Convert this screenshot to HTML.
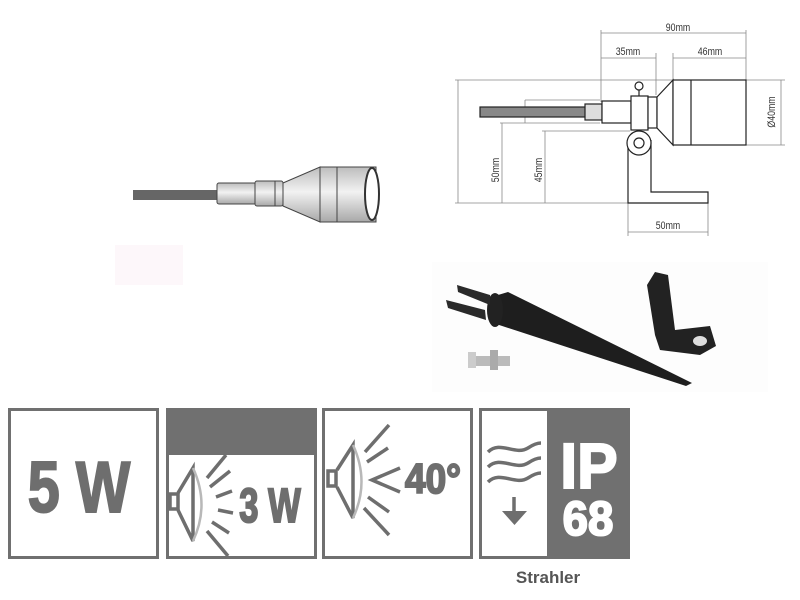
<!DOCTYPE html>
<html><head><meta charset="utf-8"><style>
html,body{margin:0;padding:0;background:#fff;}
svg{display:block;}
</style></head><body>
<svg width="800" height="600" viewBox="0 0 800 600" xmlns="http://www.w3.org/2000/svg" font-family="Liberation Sans, sans-serif">
<defs>
<linearGradient id="mg" x1="0" y1="0" x2="0" y2="1">
<stop offset="0" stop-color="#bdbdbd"/><stop offset="0.45" stop-color="#f2f2f2"/><stop offset="1" stop-color="#a8a8a8"/>
</linearGradient>
</defs>
<rect x="133" y="190" width="85" height="10" fill="#666"/>
<rect x="217" y="183" width="39" height="21" rx="2" fill="url(#mg)" stroke="#444" stroke-width="1"/>
<rect x="255" y="181" width="28" height="25" rx="2" fill="url(#mg)" stroke="#444" stroke-width="1"/>
<line x1="275" y1="181" x2="275" y2="206" stroke="#444"/>
<polygon points="283,183 320,167 320,222 283,206" fill="url(#mg)" stroke="#444"/>
<rect x="320" y="167" width="56" height="55" fill="url(#mg)" stroke="#444"/>
<line x1="337" y1="167" x2="337" y2="222" stroke="#444"/>
<ellipse cx="372" cy="194" rx="7" ry="26" fill="#fff" stroke="#333" stroke-width="2"/>
<rect x="115" y="245" width="68" height="40" fill="#fdf7fa"/>
<g stroke="#888" stroke-width="0.8" fill="none">
<line x1="601" y1="33" x2="746" y2="33"/>
<line x1="601" y1="58" x2="656" y2="58"/>
<line x1="673" y1="58" x2="746" y2="58"/>
<line x1="601" y1="30" x2="601" y2="102"/>
<line x1="656" y1="53" x2="656" y2="95"/>
<line x1="673" y1="53" x2="673" y2="80"/>
<line x1="746" y1="30" x2="746" y2="80"/>
<line x1="455" y1="80" x2="746" y2="80"/>
<line x1="746" y1="80" x2="785" y2="80"/>
<line x1="746" y1="145" x2="785" y2="145"/>
<line x1="781" y1="80" x2="781" y2="145"/>
<line x1="458" y1="80" x2="458" y2="203"/>
<line x1="502" y1="123" x2="502" y2="203"/>
<line x1="545" y1="131" x2="545" y2="203"/>
<line x1="525" y1="100" x2="600" y2="100"/>
<line x1="500" y1="123" x2="600" y2="123"/>
<line x1="542" y1="131" x2="630" y2="131"/>
<line x1="525" y1="100" x2="525" y2="123"/>
<line x1="455" y1="203" x2="628" y2="203"/>
<line x1="628" y1="203" x2="628" y2="236"/>
<line x1="708" y1="203" x2="708" y2="236"/>
<line x1="628" y1="232" x2="708" y2="232"/>
</g>
<g fill="#333" font-size="11" text-anchor="middle">
<text transform="translate(678,31) scale(0.8,1)">90mm</text>
<text transform="translate(628,55) scale(0.8,1)">35mm</text>
<text transform="translate(710,55) scale(0.8,1)">46mm</text>
<text transform="translate(668,229) scale(0.8,1)">50mm</text>
<text transform="translate(775,112) rotate(-90) scale(0.8,1)">Ø40mm</text>
<text transform="translate(499,170) rotate(-90) scale(0.8,1)">50mm</text>
<text transform="translate(542,170) rotate(-90) scale(0.8,1)">45mm</text>
</g>
<g stroke="#222" stroke-width="1.2">
<rect x="480" y="107" width="106" height="10" fill="#888"/>
<rect x="585" y="104" width="17" height="16" fill="#ddd"/>
<rect x="602" y="101" width="29" height="22" fill="#fff"/>
<rect x="631" y="96" width="17" height="34" fill="#fff"/>
<rect x="648" y="97" width="9" height="31" fill="#fff"/>
<polygon points="657,97 673,80 673,145 657,128" fill="#fff"/>
<rect x="673" y="80" width="73" height="65" fill="#fff"/>
<line x1="691" y1="80" x2="691" y2="145"/>
<line x1="639" y1="90" x2="639" y2="96"/>
<circle cx="639" cy="86" r="4" fill="#fff"/>
<path d="M628 140 V203 H708 V192 H651 V140" fill="#fff"/>
<circle cx="639" cy="143" r="12" fill="#fff"/>
<circle cx="639" cy="143" r="5" fill="#fff"/>
</g>
<rect x="432" y="262" width="336" height="130" fill="#fdfdfd"/>
<polygon points="488,298 508,292 692,383 686,386 490,322" fill="#1e1e1e"/>
<ellipse cx="495" cy="310" rx="8" ry="17" fill="#222"/>
<polygon points="457,285 490,295 490,305 458,292" fill="#2a2a2a"/>
<polygon points="446,300 485,310 486,320 448,308" fill="#2a2a2a"/>
<polygon points="647,285 655,272 668,275 675,330 710,326 716,346 700,355 660,350 655,335" fill="#222"/>
<ellipse cx="700" cy="341" rx="7" ry="5" fill="#ddd"/>
<rect x="470" y="356" width="40" height="10" fill="#bbb"/>
<rect x="468" y="352" width="8" height="16" fill="#ccc"/>
<rect x="490" y="350" width="8" height="20" fill="#aaa"/>
<g fill="none" stroke="#707070" stroke-width="3">
<rect x="9.5" y="409.5" width="148" height="148"/>
<rect x="167.5" y="409.5" width="148" height="148"/>
<rect x="323.5" y="409.5" width="148" height="148"/>
<rect x="480.5" y="409.5" width="148" height="148"/>
</g>
<rect x="167" y="409" width="149" height="46" fill="#707070"/>
<rect x="547" y="409" width="82" height="150" fill="#707070"/>
<g fill="#6e6e6e" stroke="#6e6e6e" stroke-width="2" font-weight="bold" text-anchor="middle">
<text transform="translate(79,512) scale(0.8,1)" font-size="72">5 W</text>
<text transform="translate(270,522) scale(0.72,1)" font-size="48">3 W</text>
<text transform="translate(433,493) scale(0.88,1)" font-size="42">40°</text>
</g>
<g fill="#fff" stroke="#fff" stroke-width="2" font-weight="bold" text-anchor="middle">
<text transform="translate(589,488) scale(0.95,1)" font-size="64">IP</text>
<text transform="translate(588,535) scale(0.95,1)" font-size="48">68</text>
</g>
<g stroke="#6e6e6e" stroke-width="3.5" fill="none" stroke-linecap="butt">
<polyline points="178,493 193,468 193,541 178,510"/>
<rect x="170" y="494" width="8" height="15"/>
<line x1="207" y1="478" x2="226" y2="455"/>
<line x1="210" y1="487" x2="230" y2="471"/>
<line x1="216" y1="497" x2="232" y2="491"/>
<line x1="218" y1="510" x2="233" y2="513"/>
<line x1="212" y1="522" x2="229" y2="533"/>
<line x1="207" y1="531" x2="228" y2="556"/>
<polyline points="337,470 353,445 353,518 337,487"/>
<rect x="328" y="471" width="8" height="15"/>
<line x1="365" y1="452" x2="389" y2="425"/>
<line x1="367" y1="462" x2="388" y2="448"/>
<polyline points="400,468 372,480 400,492"/>
<line x1="368" y1="497" x2="389" y2="512"/>
<line x1="364" y1="508" x2="389" y2="535"/>
<path d="M488 452 C500 440 515 456 528 448 C534 444 538 443 541 443"/>
<path d="M488 467 C500 455 515 471 528 463 C534 459 538 458 541 458"/>
<path d="M488 482 C500 470 515 486 528 478 C534 474 538 473 541 473"/>
<line x1="514" y1="497" x2="514" y2="513"/>
</g>
<g fill="none" stroke="#b8b8b8" stroke-width="2.5">
<path d="M193 468 Q210 505 193 541"/>
<path d="M353 445 Q370 482 353 518"/>
</g>
<polygon points="502,511 527,511 514.5,525" fill="#6e6e6e"/>
<text x="548" y="583" font-size="17" font-weight="bold" fill="#555" text-anchor="middle">Strahler</text>
</svg>
</body></html>
